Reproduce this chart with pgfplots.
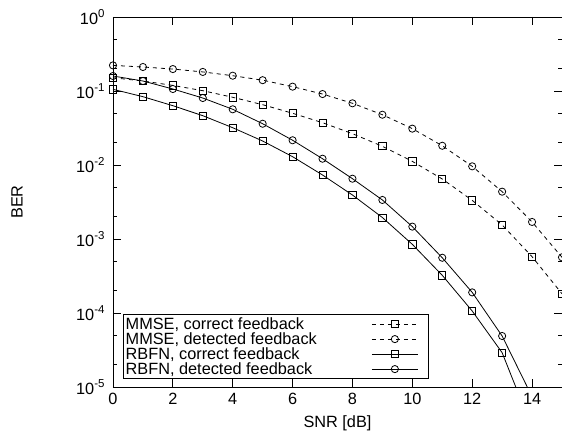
\documentclass[border=0pt]{standalone}
\usepackage{fontspec}
\setmainfont{Liberation Sans}
\usepackage{pgfplots}
\pgfplotsset{compat=1.18}
\newcommand{\sups}[1]{\raisebox{0.42em}{\fontsize{11.5bp}{13bp}\selectfont #1}}
\begin{document}
\begin{tikzpicture}[font=\fontsize{16.3bp}{19bp}\selectfont]
\useasboundingbox (-113bp,-48bp) rectangle (449bp,387bp);
\begin{axis}[
    scale only axis, width=449bp, height=370bp,
    ymode=log, xmin=0, xmax=15, ymin=1e-5, ymax=1,
    xtick={0,2,...,14},
    ytick={1e-5,1e-4,1e-3,1e-2,1e-1,1},
    yticklabels={10\sups{-5},10\sups{-4},10\sups{-3},10\sups{-2},10\sups{-1},10\sups{0}},
    minor ytick={2e-5,5e-5,2e-4,5e-4,2e-3,5e-3,2e-2,5e-2,0.2,0.5},
    /pgf/number format/assume math mode=true,
    major tick length=8bp, minor tick length=4bp,
    tick style={line width=0.8bp, black},
    axis line style={line width=0.8bp},
    xticklabel style={yshift=-3bp},
    yticklabel style={xshift=-5bp},
    xlabel={SNR [dB]}, ylabel={BER},
    every axis x label/.style={at={(axis description cs:0.5,-0.097)}, anchor=center},
    every axis y label/.style={at={(axis description cs:-0.214,0.5)}, rotate=90, anchor=center},
    legend plot pos=right,
    legend cell align=left,
    legend style={at={(axis description cs:0.0216,0.0216)}, anchor=south west,
                  line width=0.8bp, inner sep=2bp, column sep=54bp,
                  nodes={inner sep=0.6bp, text depth=0.2em}},
    legend image code/.code={
      \draw[mark repeat=2,mark phase=2,#1] plot coordinates {(0bp,0bp) (23bp,0bp) (46bp,0bp)};
      \path (54bp,0bp);},
    every axis plot/.append style={black, line width=0.8bp, mark size=3.6bp},
  ]
\addplot[dash pattern=on 4bp off 4bp, mark=square, mark options={solid}] coordinates {
  (0,0.151) (1,0.1365) (2,0.119) (3,0.101) (4,0.0822) (5,0.0653) (6,0.050) (7,0.0373)
  (8,0.0265) (9,0.0179) (10,0.0112) (11,0.00647) (12,0.00333) (13,0.00155) (14,0.000577) (15,0.000182)};
\addlegendentry{MMSE, correct feedback}
\addplot[dash pattern=on 4bp off 4bp, mark=o, mark options={solid}] coordinates {
  (0,0.222) (1,0.211) (2,0.198) (3,0.181) (4,0.161) (5,0.140) (6,0.1145) (7,0.091)
  (8,0.0682) (9,0.0478) (10,0.0310) (11,0.0182) (12,0.0096) (13,0.00436) (14,0.0017) (15,0.000566)};
\addlegendentry{MMSE, detected feedback}
\addplot[mark=square] coordinates {
  (0,0.1054) (1,0.0838) (2,0.0633) (3,0.0464) (4,0.0319) (5,0.0211) (6,0.01295) (7,0.00733)
  (8,0.00393) (9,0.00195) (10,0.000847) (11,0.000323) (12,0.0001065) (13,2.91e-5) (14,2.8e-6)};
\addlegendentry{RBFN, correct feedback}
\addplot[mark=o] coordinates {
  (0,0.1595) (1,0.1365) (2,0.1064) (3,0.0804) (4,0.0566) (5,0.0361) (6,0.0216) (7,0.01216)
  (8,0.00653) (9,0.00337) (10,0.00147) (11,0.000558) (12,0.000190) (13,4.89e-5) (14,7.4e-6)};
\addlegendentry{RBFN, detected feedback}
\end{axis}
\end{tikzpicture}
\end{document}
